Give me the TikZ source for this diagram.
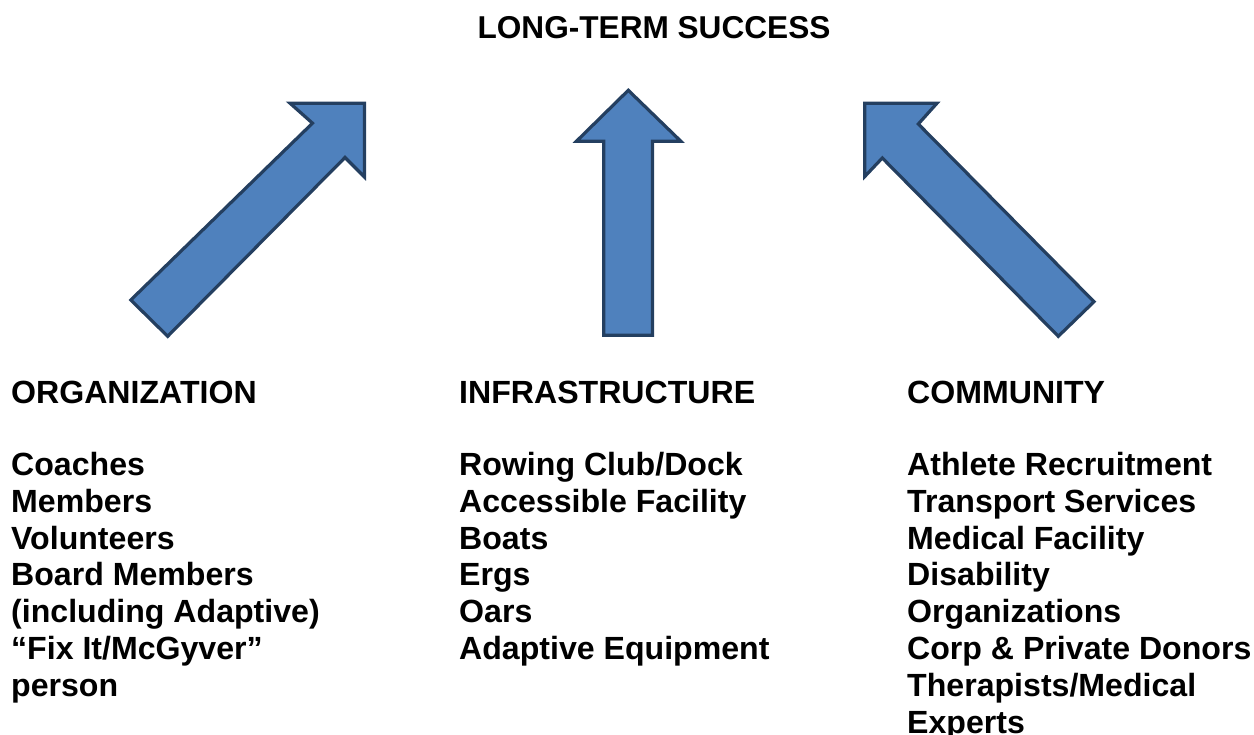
\documentclass[tikz,border=0pt]{standalone}
\usepackage{fontspec}
\setmainfont{Liberation Sans}
\definecolor{arrowfill}{HTML}{4F81BD}
\definecolor{arrowline}{HTML}{243F60}
\tikzset{
  bigarrow/.style={fill=arrowfill, draw=arrowline, line width=3.2pt, line join=miter},
  txt/.style={anchor=base west, inner sep=0pt, font=\fontsize{32.1pt}{36.8pt}\selectfont\bfseries},
  titletxt/.style={anchor=base, inner sep=0pt, font=\fontsize{31.6pt}{36.8pt}\selectfont\bfseries}
}
\begin{document}
\begin{tikzpicture}[x=1pt,y=-1pt]
\useasboundingbox (0,0) rectangle (1254,735);

% title
\node[titletxt] (title) at (654,38.5) {LONG-TERM SUCCESS};

% left arrow
\draw[bigarrow] (130.8,300) -- (312.5,123.2) -- (290,103.2) -- (364.5,103.2) -- (364.5,177) -- (345,157.5) -- (167.7,336.3) -- cycle;
% middle arrow
\draw[bigarrow] (603.8,335.2) -- (603.8,141.2) -- (576.5,141.2) -- (628.3,90.3) -- (680.8,141.2) -- (652.5,141.2) -- (652.5,335.2) -- cycle;
% right arrow
\draw[bigarrow] (1094,301.7) -- (918.3,124) -- (937,103.2) -- (864.8,103.2) -- (864.8,176.5) -- (882.3,158) -- (1058.3,336.3) -- cycle;

% headers
\node[txt] (orgh) at (11,403) {ORGANIZATION};
\node[txt] (infh) at (459,403) {INFRASTRUCTURE};
\node[txt] (comh) at (907,403) {COMMUNITY};

% lists
\foreach \t [count=\i] in {Coaches, Members, Volunteers, Board Members, (including Adaptive), {“Fix It/McGyver”}, person}
  \node[txt] (org\i) at (11,{475.5+(\i-1)*36.8}) {\t};
\foreach \t [count=\i] in {Rowing Club/Dock, Accessible Facility, Boats, Ergs, Oars, Adaptive Equipment}
  \node[txt] (inf\i) at (459,{475.5+(\i-1)*36.8}) {\t};
\foreach \t [count=\i] in {Athlete Recruitment, Transport Services, Medical Facility, Disability, Organizations, Corp \& Private Donors, Therapists/Medical, Experts}
  \node[txt] (com\i) at (907,{475.5+(\i-1)*36.8}) {\t};
\end{tikzpicture}
\end{document}
